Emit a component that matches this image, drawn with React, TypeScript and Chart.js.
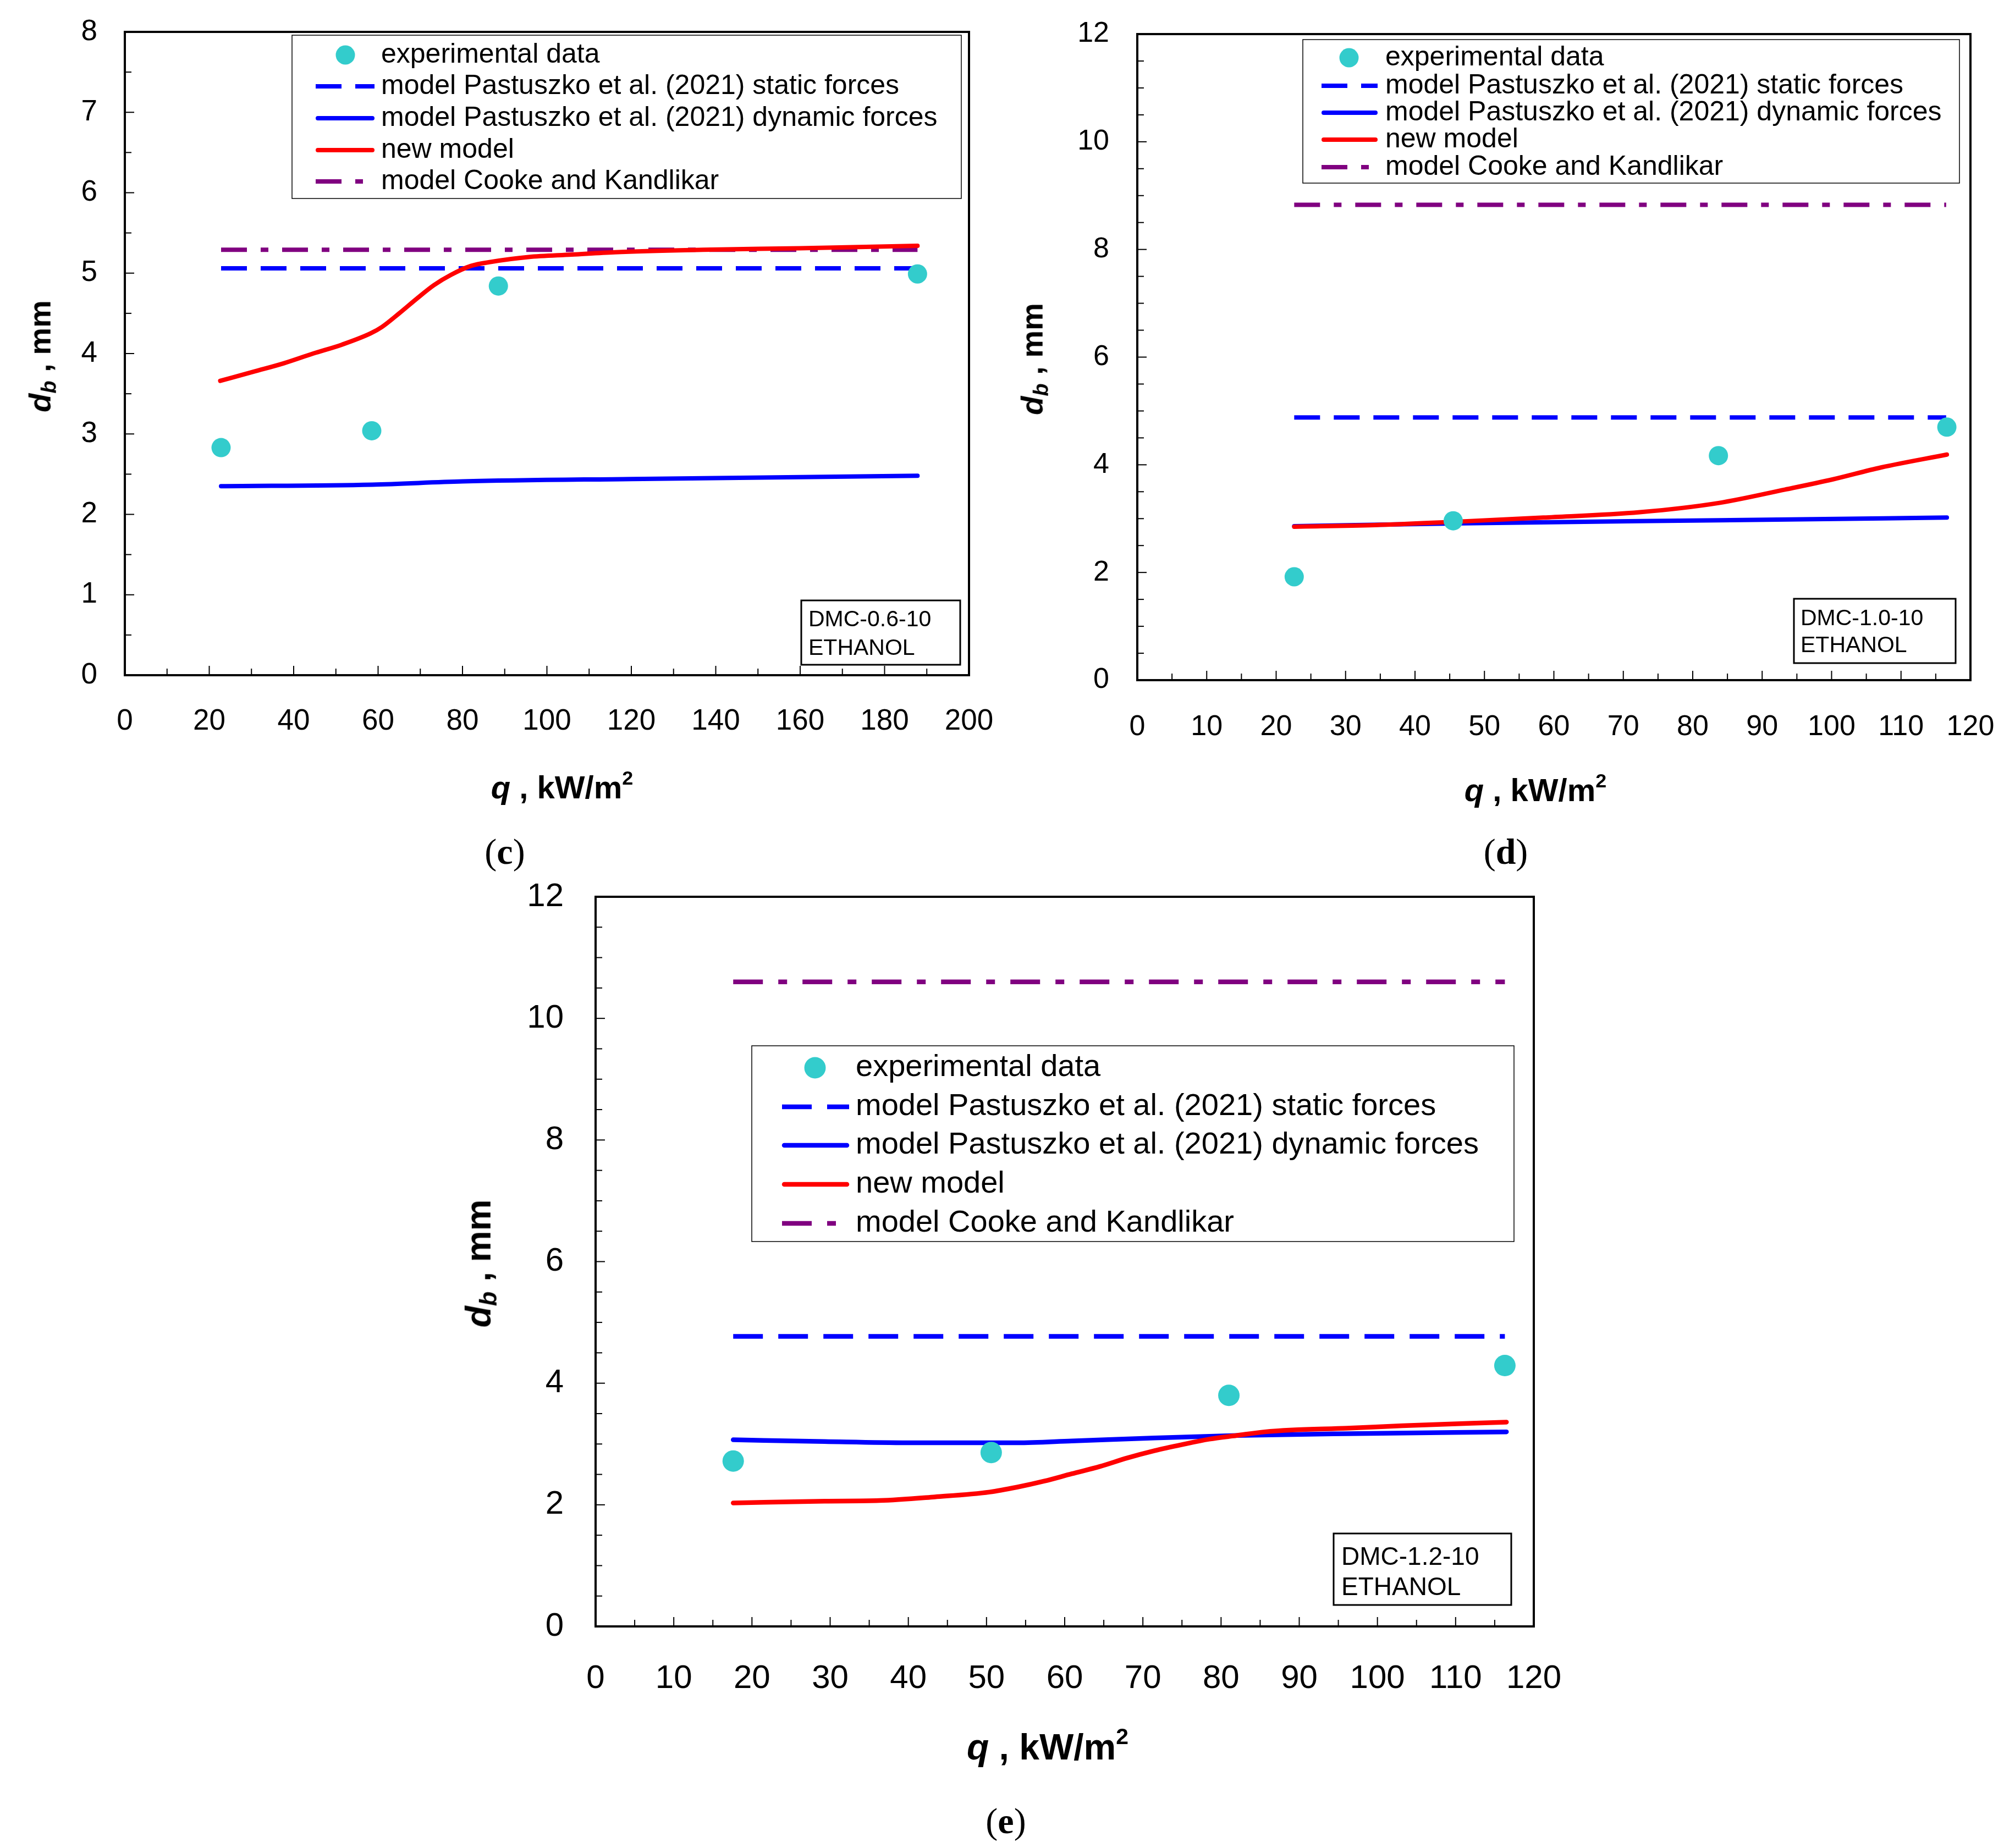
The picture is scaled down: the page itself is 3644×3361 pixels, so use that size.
import React, { useEffect, useRef } from "react";
import { Chart, registerables } from "chart.js";

Chart.register(...registerables);

// ---------------- DATA ----------------
const legendLabels = [
  "experimental data",
  "model Pastuszko et al. (2021) static forces",
  "model Pastuszko et al. (2021) dynamic forces",
  "new model",
  "model Cooke and Kandlikar",
];
const fluidName = "ETHANOL";
const sampleCodes = ["DMC-0.6-10", "DMC-1.0-10", "DMC-1.2-10"];
const panelTags = ["c", "d", "e"];

// (c) DMC-0.6-10
const cExpQ = [22.8, 58.5, 88.5, 187.8];
const cExpD = [2.83, 3.04, 4.84, 4.99];
const cStaticQ = [22.8, 187.8];
const cStaticD = [5.06, 5.06];
const cDynQ = [22.8, 58.6, 80.0, 120.0, 187.8];
const cDynD = [2.35, 2.37, 2.41, 2.44, 2.48];
const cNewQ = [22.6, 30.9, 37.7, 44.6, 51.4, 58.2, 60.9, 65.0, 69.1, 73.2, 77.3, 82.0, 86.8, 95.6, 105.9, 116.1, 137.0, 160.0, 187.8];
const cNewD = [3.66, 3.78, 3.88, 4.0, 4.11, 4.25, 4.33, 4.5, 4.68, 4.85, 4.98, 5.09, 5.14, 5.2, 5.23, 5.26, 5.29, 5.31, 5.34];
const cCookeQ = [22.8, 187.8];
const cCookeD = [5.29, 5.29];

// (d) DMC-1.0-10
const dExpQ = [22.6, 45.5, 83.7, 116.6];
const dExpD = [1.92, 2.96, 4.17, 4.7];
const dStaticQ = [22.6, 116.5];
const dStaticD = [4.88, 4.88];
const dDynQ = [22.6, 45.5, 83.7, 116.6];
const dDynD = [2.86, 2.91, 2.97, 3.02];
const dNewQ = [22.6, 34.2, 45.5, 58.5, 72.4, 83.7, 93.3, 100.2, 107.1, 116.6];
const dNewD = [2.85, 2.88, 2.94, 3.02, 3.12, 3.29, 3.54, 3.73, 3.95, 4.19];
const dCookeQ = [22.6, 116.5];
const dCookeD = [8.83, 8.83];

// (e) DMC-1.2-10
const eExpQ = [17.6, 50.6, 81.0, 116.3];
const eExpD = [2.72, 2.86, 3.8, 4.29];
const eStaticQ = [17.6, 116.3];
const eStaticD = [4.77, 4.77];
const eDynQ = [17.6, 29.3, 39.9, 53.9, 60.9, 71.5, 82.0, 96.1, 116.5];
const eDynD = [3.07, 3.04, 3.02, 3.02, 3.05, 3.1, 3.14, 3.17, 3.2];
const eNewQ = [17.6, 29.3, 36.3, 43.4, 50.4, 53.9, 57.4, 60.9, 64.5, 68.0, 71.5, 75.0, 78.5, 82.0, 85.6, 89.1, 96.1, 103.2, 116.5];
const eNewD = [2.03, 2.06, 2.07, 2.13, 2.21, 2.29, 2.39, 2.51, 2.63, 2.77, 2.89, 2.99, 3.08, 3.14, 3.2, 3.23, 3.26, 3.3, 3.36];
const eCookeQ = [17.6, 116.3];
const eCookeD = [10.6, 10.6];

// ---------------- STYLE / GEOMETRY ----------------
const SANS = "'Liberation Sans', Arial, sans-serif";
const SERIF = "'Liberation Serif', 'Times New Roman', serif";
const COL_EXP = "#33CCCC";
const COL_BLUE = "#0000FF";
const COL_RED = "#FF0000";
const COL_PURPLE = "#800080";

type Geo = {
  canvas: { left: number; top: number; width: number; height: number };
  plot: { left: number; right: number; top: number; bottom: number };
  xMax: number; xMajor: number; xMinor: number;
  yMax: number; yMajor: number; yMinor: number;
  tickFont: number; xPad: number; yPad: number;
  lineWidth: number; radius: number; dash: number[]; dashDot: number[];
  legend: { left: number; right: number; top: number; bottom: number; rows: number[]; markerCx: number; lineX0: number; lineX1: number; textX: number; font: number };
  info: { left: number; right: number; top: number; bottom: number; textX: number; baselines: number[]; font: number };
  yTitle: { cx: number; cy: number; font: number };
  xTitle: { cx: number; cy: number; font: number };
  tag: { cx: number; cy: number; font: number };
};

const geoC: Geo = {
  canvas: { left: 0, top: 0, width: 1822, height: 1500 },
  plot: { left: 227, right: 1762, top: 58, bottom: 1228 },
  xMax: 200, xMajor: 20, xMinor: 10, yMax: 8, yMajor: 1, yMinor: 0.5,
  tickFont: 53, xPad: 49.5, yPad: 42,
  lineWidth: 8, radius: 17.5, dash: [47, 25], dashDot: [47, 25, 14, 25],
  legend: { left: 531, right: 1748, top: 64, bottom: 361, rows: [100, 157, 215, 273, 330], markerCx: 628, lineX0: 574, lineX1: 681, textX: 693, font: 50 },
  info: { left: 1457, right: 1746, top: 1092, bottom: 1209, textX: 1470, baselines: [1139, 1191], font: 41 },
  yTitle: { cx: 76, cy: 648, font: 56 },
  xTitle: { cx: 1022, cy: 1429, font: 58 },
  tag: { cx: 918, cy: 1549, font: 66 },
};

const geoD: Geo = {
  canvas: { left: 1822, top: 0, width: 1822, height: 1500 },
  plot: { left: 2068, right: 3583, top: 62, bottom: 1237 },
  xMax: 120, xMajor: 10, xMinor: 5, yMax: 12, yMajor: 2, yMinor: 0.5,
  tickFont: 52, xPad: 52, yPad: 43,
  lineWidth: 8, radius: 17.5, dash: [47, 25], dashDot: [47, 25, 14, 25],
  legend: { left: 2369, right: 3563, top: 72, bottom: 333, rows: [105, 156, 205, 254, 304], markerCx: 2453, lineX0: 2403, lineX1: 2505, textX: 2519, font: 50 },
  info: { left: 3262, right: 3556, top: 1089, bottom: 1206, textX: 3274, baselines: [1137, 1186], font: 41 },
  yTitle: { cx: 1880, cy: 653, font: 56 },
  xTitle: { cx: 2792, cy: 1434, font: 58 },
  tag: { cx: 2738, cy: 1549, font: 66 },
};

const geoE: Geo = {
  canvas: { left: 800, top: 1560, width: 2100, height: 1580 },
  plot: { left: 1083, right: 2789, top: 1631, bottom: 2958 },
  xMax: 120, xMajor: 10, xMinor: 5, yMax: 12, yMajor: 2, yMinor: 0.5,
  tickFont: 60, xPad: 57, yPad: 50,
  lineWidth: 8.5, radius: 19.5, dash: [54, 28], dashDot: [54, 28, 16, 28],
  legend: { left: 1367, right: 2753, top: 1902, bottom: 2258, rows: [1942, 2013, 2083, 2154, 2225], markerCx: 1482, lineX0: 1422, lineX1: 1544, textX: 1556, font: 56 },
  info: { left: 2425, right: 2748, top: 2789, bottom: 2919, textX: 2439, baselines: [2846, 2901], font: 46 },
  yTitle: { cx: 874, cy: 2298, font: 64 },
  xTitle: { cx: 1905, cy: 3174, font: 66 },
  tag: { cx: 1829, cy: 3312, font: 66 },
};

const pts = (q: number[], d: number[]) => q.map((x, i) => ({ x, y: d[i] }));

function buildDatasets(g: Geo, s: { exp: [number[], number[]]; stat: [number[], number[]]; dyn: [number[], number[]]; nw: [number[], number[]]; cooke: [number[], number[]] }) {
  const line = (color: string, dash: number[], smooth: boolean) => ({
    showLine: true,
    pointRadius: 0,
    pointHoverRadius: 0,
    borderColor: color,
    backgroundColor: color,
    borderWidth: g.lineWidth,
    borderDash: dash,
    borderCapStyle: dash.length ? "butt" : "round",
    borderJoinStyle: "round",
    fill: false,
    tension: 0,
    cubicInterpolationMode: smooth ? "monotone" : "default",
  });
  return [
    {
      label: legendLabels[0],
      data: pts(s.exp[0], s.exp[1]),
      showLine: false,
      pointRadius: g.radius,
      pointHoverRadius: g.radius,
      pointBackgroundColor: COL_EXP,
      pointBorderColor: COL_EXP,
      pointBorderWidth: 0,
      backgroundColor: COL_EXP,
      borderColor: COL_EXP,
    },
    { label: legendLabels[3], data: pts(s.nw[0], s.nw[1]), ...line(COL_RED, [], true) },
    { label: legendLabels[2], data: pts(s.dyn[0], s.dyn[1]), ...line(COL_BLUE, [], true) },
    { label: legendLabels[1], data: pts(s.stat[0], s.stat[1]), ...line(COL_BLUE, g.dash, false) },
    { label: legendLabels[4], data: pts(s.cooke[0], s.cooke[1]), ...line(COL_PURPLE, g.dashDot, false) },
  ];
}

function makeDecor(g: Geo, info: string[]) {
  return {
    id: "decor",
    afterDraw(chart: any) {
      const ctx = chart.ctx as CanvasRenderingContext2D;
      const ox = g.canvas.left;
      const oy = g.canvas.top;
      const { left, right, top, bottom } = chart.chartArea;
      const xs = chart.scales.x;
      const ys = chart.scales.y;
      ctx.save();
      ctx.setLineDash([]);
      ctx.strokeStyle = "#000";
      ctx.lineWidth = 2;
      ctx.lineCap = "butt";
      const nX = Math.round(g.xMax / g.xMinor);
      for (let i = 0; i <= nX; i++) {
        const v = i * g.xMinor;
        const r = v / g.xMajor;
        const major = Math.abs(r - Math.round(r)) < 1e-6;
        const px = xs.getPixelForValue(v);
        ctx.beginPath();
        ctx.moveTo(px, bottom);
        ctx.lineTo(px, bottom - (major ? 17 : 12));
        ctx.stroke();
      }
      const nY = Math.round(g.yMax / g.yMinor);
      for (let i = 0; i <= nY; i++) {
        const v = i * g.yMinor;
        const r = v / g.yMajor;
        const major = Math.abs(r - Math.round(r)) < 1e-6;
        const py = ys.getPixelForValue(v);
        ctx.beginPath();
        ctx.moveTo(left, py);
        ctx.lineTo(left + (major ? 17 : 12), py);
        ctx.stroke();
      }
      ctx.lineWidth = 4;
      ctx.strokeRect(left, top, right - left, bottom - top);

      // legend box
      const L = g.legend;
      ctx.fillStyle = "#fff";
      ctx.fillRect(L.left - ox, L.top - oy, L.right - L.left, L.bottom - L.top);
      ctx.lineWidth = 1.5;
      ctx.strokeStyle = "#000";
      ctx.strokeRect(L.left - ox, L.top - oy, L.right - L.left, L.bottom - L.top);
      legendLabels.forEach((lab, i) => {
        const ds = chart.data.datasets.find((d: any) => d.label === lab);
        const y = L.rows[i] - oy;
        ctx.save();
        if (ds && ds.showLine === false) {
          ctx.fillStyle = ds.pointBackgroundColor;
          ctx.beginPath();
          ctx.arc(L.markerCx - ox, y, g.radius, 0, Math.PI * 2);
          ctx.fill();
        } else if (ds) {
          const dash = ds.borderDash || [];
          ctx.setLineDash(dash);
          ctx.lineCap = dash.length ? "butt" : "round";
          ctx.strokeStyle = ds.borderColor;
          ctx.lineWidth = ds.borderWidth;
          ctx.beginPath();
          ctx.moveTo(L.lineX0 - ox + (dash.length ? 0 : 4), y);
          ctx.lineTo(L.lineX1 - ox - (dash.length ? 0 : 4), y);
          ctx.stroke();
        }
        ctx.restore();
        ctx.fillStyle = "#000";
        ctx.font = `${L.font}px ${SANS}`;
        ctx.textAlign = "left";
        ctx.textBaseline = "middle";
        ctx.fillText(lab, L.textX - ox, y);
      });

      // sample box
      const I = g.info;
      ctx.fillStyle = "#fff";
      ctx.fillRect(I.left - ox, I.top - oy, I.right - I.left, I.bottom - I.top);
      ctx.lineWidth = 3;
      ctx.strokeStyle = "#000";
      ctx.strokeRect(I.left - ox, I.top - oy, I.right - I.left, I.bottom - I.top);
      ctx.fillStyle = "#000";
      ctx.font = `${I.font}px ${SANS}`;
      ctx.textAlign = "left";
      ctx.textBaseline = "alphabetic";
      info.forEach((t, i) => ctx.fillText(t, I.textX - ox, I.baselines[i] - oy));
      ctx.restore();
    },
  };
}

function Panel({ g, datasets, info }: { g: Geo; datasets: any[]; info: string[] }) {
  const ref = useRef<HTMLCanvasElement>(null);
  useEffect(() => {
    const canvas = ref.current;
    if (!canvas) return;
    const XH = 150;
    const c = g.canvas;
    const p = g.plot;
    const chart = new Chart(canvas, {
      type: "scatter",
      data: { datasets },
      options: {
        animation: false,
        responsive: false,
        maintainAspectRatio: false,
        events: [],
        layout: {
          autoPadding: false,
          padding: {
            left: 0,
            top: p.top - c.top,
            right: c.left + c.width - p.right,
            bottom: c.top + c.height - p.bottom - XH,
          },
        },
        plugins: { legend: { display: false }, tooltip: { enabled: false } },
        scales: {
          x: {
            type: "linear",
            min: 0,
            max: g.xMax,
            grid: { display: false },
            border: { display: false },
            ticks: {
              stepSize: g.xMajor,
              autoSkip: false,
              maxRotation: 0,
              padding: g.xPad,
              color: "#000",
              font: { family: SANS, size: g.tickFont, lineHeight: 1 },
            },
            afterFit: (s: any) => {
              s.height = XH;
              s.paddingLeft = 0;
              s.paddingRight = 0;
              s.paddingTop = 0;
              s.paddingBottom = 0;
            },
          },
          y: {
            type: "linear",
            min: 0,
            max: g.yMax,
            grid: { display: false },
            border: { display: false },
            ticks: {
              stepSize: g.yMajor,
              autoSkip: false,
              padding: g.yPad,
              color: "#000",
              font: { family: SANS, size: g.tickFont, lineHeight: 1 },
            },
            afterFit: (s: any) => {
              s.width = p.left - c.left;
              s.paddingLeft = 0;
              s.paddingRight = 0;
              s.paddingTop = 0;
              s.paddingBottom = 0;
            },
          },
        },
      } as any,
      plugins: [makeDecor(g, info)],
    } as any);
    return () => chart.destroy();
  }, []);
  return (
    <canvas
      ref={ref}
      width={g.canvas.width}
      height={g.canvas.height}
      style={{ position: "absolute", left: g.canvas.left, top: g.canvas.top, width: g.canvas.width, height: g.canvas.height }}
    />
  );
}

function Titles({ g, tag }: { g: Geo; tag: string }) {
  const base: React.CSSProperties = {
    position: "absolute",
    whiteSpace: "nowrap",
    lineHeight: 1,
    fontFamily: SANS,
    fontWeight: "bold",
    color: "#000",
  };
  return (
    <>
      <div
        style={{ ...base, left: g.yTitle.cx, top: g.yTitle.cy, fontSize: g.yTitle.font, transform: "translate(-50%, -50%) rotate(-90deg)" }}
      >
        <i>d</i>
        <sub style={{ fontSize: "0.68em", verticalAlign: "-0.25em" }}><i>b</i></sub>
        {" , mm"}
      </div>
      <div style={{ ...base, left: g.xTitle.cx, top: g.xTitle.cy, fontSize: g.xTitle.font, transform: "translate(-50%, -50%)" }}>
        <i>q</i>
        {" , kW/m"}
        <sup style={{ fontSize: "0.62em", verticalAlign: "0.7em" }}>2</sup>
      </div>
      <div
        style={{ position: "absolute", whiteSpace: "nowrap", lineHeight: 1, left: g.tag.cx, top: g.tag.cy, fontSize: g.tag.font, fontFamily: SERIF, color: "#000", transform: "translate(-50%, -50%)" }}
      >
        ({<b>{tag}</b>})
      </div>
    </>
  );
}

export default function App() {
  const dsC = buildDatasets(geoC, { exp: [cExpQ, cExpD], stat: [cStaticQ, cStaticD], dyn: [cDynQ, cDynD], nw: [cNewQ, cNewD], cooke: [cCookeQ, cCookeD] });
  const dsD = buildDatasets(geoD, { exp: [dExpQ, dExpD], stat: [dStaticQ, dStaticD], dyn: [dDynQ, dDynD], nw: [dNewQ, dNewD], cooke: [dCookeQ, dCookeD] });
  const dsE = buildDatasets(geoE, { exp: [eExpQ, eExpD], stat: [eStaticQ, eStaticD], dyn: [eDynQ, eDynD], nw: [eNewQ, eNewD], cooke: [eCookeQ, eCookeD] });
  return (
    <div style={{ position: "absolute", left: 0, top: 0, width: 3644, height: 3361, background: "#fff", overflow: "hidden" }}>
      <Panel g={geoC} datasets={dsC} info={[sampleCodes[0], fluidName]} />
      <Panel g={geoD} datasets={dsD} info={[sampleCodes[1], fluidName]} />
      <Panel g={geoE} datasets={dsE} info={[sampleCodes[2], fluidName]} />
      <Titles g={geoC} tag={panelTags[0]} />
      <Titles g={geoD} tag={panelTags[1]} />
      <Titles g={geoE} tag={panelTags[2]} />
    </div>
  );
}
